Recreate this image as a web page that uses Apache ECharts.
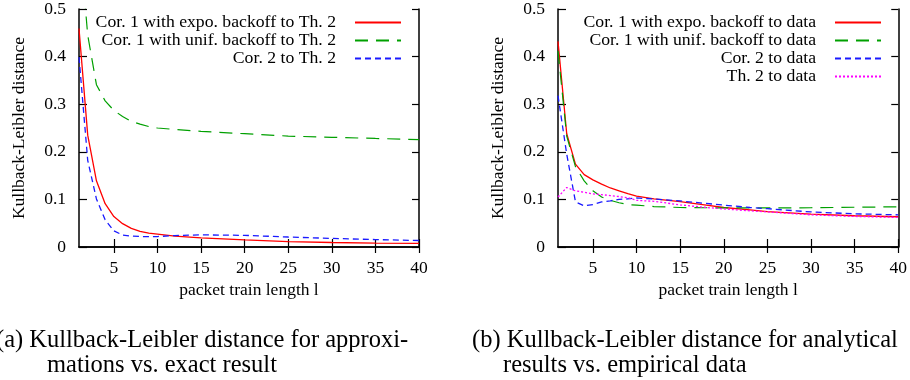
<!DOCTYPE html>
<html>
<head>
<meta charset="utf-8">
<script src="https://cdn.jsdelivr.net/npm/echarts@6/dist/echarts.min.js"></script>
<style>html,body{margin:0;padding:0;background:#fff}#c{width:910px;height:380px}</style>
</head>
<body>
<div id="c"></div>
<script>
// ---- data ----
const xTickValues = [5, 10, 15, 20, 25, 30, 35, 40];

// (a) approximations vs exact result (Th. 2)
const xA = [1, 2, 3, 4, 5, 6, 7, 8, 9, 10, 12, 15, 20, 25, 30, 35, 40];
const aExpo = [0.459, 0.235, 0.139, 0.091, 0.064, 0.049, 0.039, 0.033, 0.029, 0.027, 0.023, 0.019, 0.015, 0.0115, 0.0095, 0.008, 0.0075];
const aUnif = [0.66, 0.445, 0.341, 0.307, 0.287, 0.274, 0.264, 0.258, 0.253, 0.25, 0.247, 0.243, 0.238, 0.233, 0.2305, 0.228, 0.2257];
const aCor2 = [0.399, 0.182, 0.101, 0.057, 0.034, 0.025, 0.023, 0.022, 0.022, 0.022, 0.024, 0.0255, 0.0245, 0.021, 0.018, 0.0156, 0.0136];

// (b) analytical results vs empirical data
const xB = [1, 2, 3, 4, 5, 6, 7, 8, 9, 10, 12, 15, 18, 20, 23, 25, 30, 35, 40];
const bExpo = [0.432, 0.238, 0.174, 0.152, 0.141, 0.132, 0.124, 0.118, 0.112, 0.107, 0.101, 0.0955, 0.088, 0.083, 0.078, 0.0745, 0.069, 0.0656, 0.0636];
const bUnif = [0.412, 0.233, 0.169, 0.139, 0.118, 0.105, 0.098, 0.093, 0.089, 0.088, 0.085, 0.083, 0.0825, 0.0823, 0.082, 0.082, 0.0825, 0.0835, 0.0845];
const bCor2 = [0.318, 0.195, 0.095, 0.0865, 0.089, 0.0946, 0.097, 0.1, 0.101, 0.103, 0.101, 0.0967, 0.0915, 0.088, 0.083, 0.0805, 0.0737, 0.0697, 0.0676];
const bTh2 = [0.105, 0.125, 0.118, 0.115, 0.1115, 0.11, 0.108, 0.106, 0.1035, 0.098, 0.096, 0.0885, 0.083, 0.08, 0.076, 0.0737, 0.0676, 0.0642, 0.0622];

const namesA = ['Cor. 1 with expo. backoff to Th. 2', 'Cor. 1 with unif. backoff to Th. 2', 'Cor. 2 to Th. 2'];
const namesB = ['Cor. 1 with expo. backoff to data', 'Cor. 1 with unif. backoff to data', 'Cor. 2 to data', 'Th. 2 to data'];
const xName = 'packet train length l';
const yName = 'Kullback-Leibler distance';
const captionA = ['(a) Kullback-Leibler distance for approxi-', 'mations vs. exact result'];
const captionB = ['(b) Kullback-Leibler distance for analytical', 'results vs. empirical data'];

// ---- styles ----
const FONT = 'Liberation Serif';
const styles = [
  {color: '#ff0000', width: 1.3, type: 'solid'},
  {color: '#00a000', width: 1.2, type: [13, 8]},
  {color: '#1a1aff', width: 1.3, type: [6, 4]},
  {color: '#ff00ff', width: 1.3, type: [2, 2]}
];
const zip = (xs, ys) => xs.map((x, i) => [x, ys[i]]);

function axesFor(gi) {
  const xs = [
    {gridIndex: gi, type: 'value', min: 1, max: 40, position: 'bottom',
     name: xName, nameLocation: 'middle', nameGap: 34,
     nameTextStyle: {fontFamily: FONT, fontSize: 17.5, color: '#000'},
     axisLine: {lineStyle: {color: '#000', width: 1.5}},
     axisTick: {inside: true, length: 8, customValues: xTickValues, lineStyle: {color: '#000', width: 1.2}},
     axisLabel: {customValues: xTickValues, fontFamily: FONT, fontSize: 17.5, color: '#000', margin: 12},
     splitLine: {show: false}},
    {gridIndex: gi, type: 'value', min: 1, max: 40, position: 'top',
     axisLine: {lineStyle: {color: '#000', width: 1.5}},
     axisTick: {inside: true, length: 6, customValues: xTickValues, lineStyle: {color: '#000', width: 1.2}},
     axisLabel: {show: false}, splitLine: {show: false}}
  ];
  const ys = [
    {gridIndex: gi, type: 'value', min: 0, max: 0.5, interval: 0.1, position: 'left',
     name: yName, nameLocation: 'middle', nameGap: 51, nameRotate: 90,
     nameTextStyle: {fontFamily: FONT, fontSize: 17.5, color: '#000'},
     axisLine: {lineStyle: {color: '#000', width: 1.5}},
     axisTick: {inside: true, length: 8, lineStyle: {color: '#000', width: 1.2}},
     axisLabel: {fontFamily: FONT, fontSize: 17.5, color: '#000', margin: 13, padding: [10, 0, 0, 0],
                 formatter: v => v === 0 ? '0' : v.toFixed(1)},
     splitLine: {show: false}},
    {gridIndex: gi, type: 'value', min: 0, max: 0.5, interval: 0.1, position: 'right',
     axisLine: {lineStyle: {color: '#000', width: 1.5}},
     axisTick: {inside: true, length: 7, lineStyle: {color: '#000', width: 1.2}},
     axisLabel: {show: false}, splitLine: {show: false}}
  ];
  return {xs, ys};
}
const a0 = axesFor(0), a1 = axesFor(1);

function line(name, data, st, xi, yi) {
  return {type: 'line', name, data, xAxisIndex: xi, yAxisIndex: yi, symbol: 'none',
          clip: true, silent: true, animation: false,
          lineStyle: {color: st.color, width: st.width, type: st.type},
          itemStyle: {color: st.color}};
}

const legendCommon = {
  orient: 'vertical', align: 'right', padding: 0, itemGap: 0,
  itemWidth: 46, itemHeight: 10, selectedMode: false,
  itemStyle: {opacity: 0, borderWidth: 0},
  textStyle: {fontFamily: FONT, fontSize: 17.7, color: '#000', lineHeight: 14.3, padding: [0, 14, 0, 0]}
};

const capFont = '24.5px "Liberation Serif"';
function capText(x, y, t) {
  return {type: 'text', x, y, silent: true,
          style: {text: t, font: capFont, fill: '#000', textVerticalAlign: 'middle'}};
}

const option = {
  animation: false,
  backgroundColor: '#fff',
  grid: [
    {left: 79, top: 0, width: 340, height: 247},
    {left: 558, top: 0, width: 341, height: 247}
  ],
  xAxis: [...a0.xs, ...a1.xs],
  yAxis: [...a0.ys, ...a1.ys],
  legend: [
    Object.assign({}, legendCommon, {right: 508, top: 13.5, data: namesA}),
    Object.assign({}, legendCommon, {right: 28, top: 13.5, data: namesB})
  ],
  series: [
    line(namesA[0], zip(xA, aExpo), styles[0], 0, 0),
    line(namesA[1], zip(xA, aUnif), styles[1], 0, 0),
    line(namesA[2], zip(xA, aCor2), styles[2], 0, 0),
    line(namesB[0], zip(xB, bExpo), styles[0], 2, 2),
    line(namesB[1], zip(xB, bUnif), styles[1], 2, 2),
    line(namesB[2], zip(xB, bCor2), styles[2], 2, 2),
    line(namesB[3], zip(xB, bTh2), styles[3], 2, 2)
  ],
  graphic: [
    capText(-4, 341, captionA[0]),
    capText(47, 366, captionA[1]),
    capText(472, 341, captionB[0]),
    capText(503, 366, captionB[1])
  ]
};

const chart = echarts.init(document.getElementById('c'), null, {renderer: 'canvas'});
chart.setOption(option);
</script>
</body>
</html>
